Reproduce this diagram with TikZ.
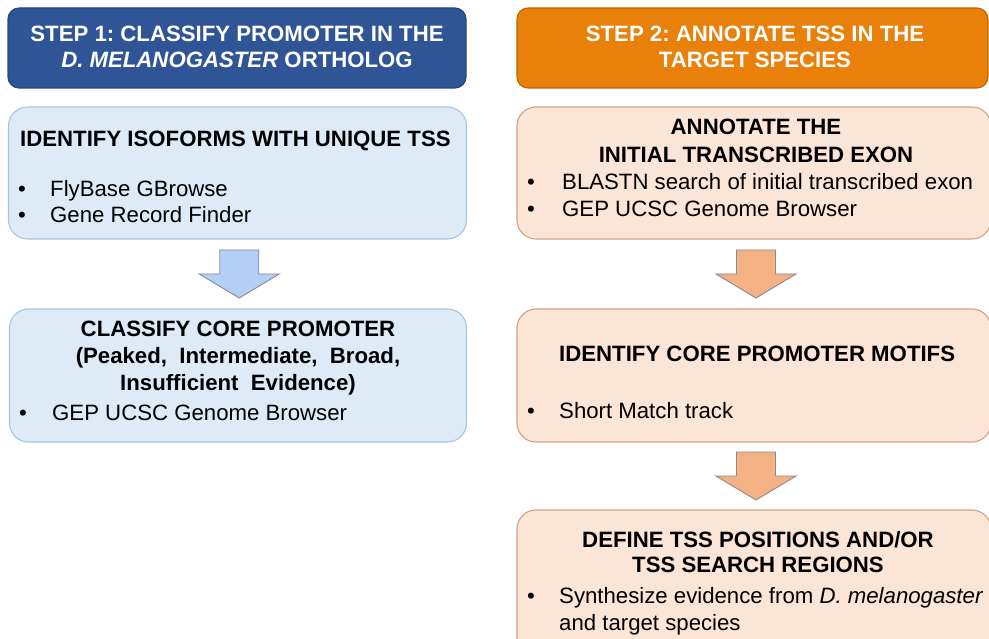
\documentclass[tikz,border=0pt]{standalone}
\usepackage{fontspec}
\setmainfont{Liberation Sans}
\usetikzlibrary{calc}
\frenchspacing
\definecolor{hdrblue}{HTML}{2F5597}
\definecolor{hdrblueline}{HTML}{27467E}
\definecolor{hdrorange}{HTML}{E9800A}
\definecolor{hdrorangeline}{HTML}{B86508}
\definecolor{boxblue}{HTML}{DEEBF7}
\definecolor{boxblueline}{HTML}{A6C6E6}
\definecolor{boxorange}{HTML}{FBE5D6}
\definecolor{boxorangeline}{HTML}{D2A283}
\definecolor{arrblue}{HTML}{B4CFF6}
\definecolor{arrorange}{HTML}{F4B183}
\definecolor{arrline}{HTML}{8A8A8A}
\tikzset{
  boxbase/.style={rectangle, inner sep=0pt, line width=1.1pt},
  hdrL/.style={boxbase, rounded corners=11pt, fill=hdrblue, draw=hdrblueline},
  hdrR/.style={boxbase, rounded corners=11pt, fill=hdrorange, draw=hdrorangeline},
  stepL/.style={boxbase, rounded corners=19pt, fill=boxblue, draw=boxblueline},
  stepR/.style={boxbase, rounded corners=19pt, fill=boxorange, draw=boxorangeline},
  txt/.style={inner sep=0pt, font=\fontsize{22.2}{26}\selectfont},
  htxt/.style={txt, text=white, font=\fontsize{22.2}{26}\selectfont\bfseries},
  btxt/.style={txt, font=\fontsize{22.2}{26}\selectfont\bfseries},
  fatarrowL/.style={fill=arrblue, draw=arrline, line width=0.9pt, line join=miter},
  fatarrowR/.style={fill=arrorange, draw=arrline, line width=0.9pt, line join=miter},
}
\newcommand{\fatdown}[2]{%
  \draw[#1] ($(#2)+(-19.5,-24)$) -- ($(#2)+(19.5,-24)$) -- ($(#2)+(19.5,0)$)
    -- ($(#2)+(40,0)$) -- ($(#2)+(0,24)$) -- ($(#2)+(-40,0)$)
    -- ($(#2)+(-19.5,0)$) -- cycle;}
\begin{document}
\begin{tikzpicture}[x=1pt,y=-1pt]
\useasboundingbox (0,0) rectangle (989,639);
\clip (0,0) rectangle (989,639);
\fill[white] (0,0) rectangle (989,639);

% headers
\node[hdrL, minimum width=458pt, minimum height=80pt] (h1) at (237,48) {};
\node[hdrR, minimum width=471pt, minimum height=80pt] (h2) at (752.5,48) {};
\node[htxt, anchor=base] (h1a) at (237,42) {STEP 1: CLASSIFY PROMOTER IN THE};
\node[htxt, anchor=base] (h1b) at (237,68) {\textit{D. MELANOGASTER} ORTHOLOG};
\node[htxt, anchor=base] (h2a) at (755,42) {STEP 2: ANNOTATE TSS IN THE};
\node[htxt, anchor=base] (h2b) at (755,68) {TARGET SPECIES};

% left column boxes
\node[stepL, minimum width=458pt, minimum height=132pt] (l1) at (237.5,173) {};
\node[stepL, minimum width=457pt, minimum height=133pt] (l2) at (238,375.5) {};
% right column boxes
\node[stepR, minimum width=474pt, minimum height=132pt] (r1) at (754,173) {};
\node[stepR, minimum width=474pt, minimum height=133pt] (r2) at (754,375.5) {};
\node[stepR, minimum width=474pt, minimum height=150pt] (r3) at (754,585) {};

% left box 1 text
\node[btxt, anchor=base west] (l1t) at (20,147) {IDENTIFY ISOFORMS WITH UNIQUE TSS};
\node[txt, anchor=base] (l1b1) at (22,197) {•};
\node[txt, anchor=base west] (l1i1) at (50,197) {FlyBase GBrowse};
\node[txt, anchor=base] (l1b2) at (22,223) {•};
\node[txt, anchor=base west] (l1i2) at (50,223) {Gene Record Finder};

% left box 2 text
\node[btxt, anchor=base] (l2t1) at (238,337) {CLASSIFY CORE PROMOTER};
\node[btxt, anchor=base] (l2t2) at (238,363) {(Peaked,\ \ Intermediate,\ \ Broad,};
\node[btxt, anchor=base] (l2t3) at (238,390) {Insufficient\ \ Evidence)};
\node[txt, anchor=base] (l2b1) at (23,420) {•};
\node[txt, anchor=base west] (l2i1) at (52,420) {GEP UCSC Genome Browser};

% right box 1 text
\node[btxt, anchor=base] (r1t1) at (756,135) {ANNOTATE THE};
\node[btxt, anchor=base] (r1t2) at (756,163) {INITIAL TRANSCRIBED EXON};
\node[txt, anchor=base] (r1b1) at (531,190) {•};
\node[txt, anchor=base west] (r1i1) at (562,190) {BLASTN search of initial transcribed exon};
\node[txt, anchor=base] (r1b2) at (531,217) {•};
\node[txt, anchor=base west] (r1i2) at (562,217) {GEP UCSC Genome Browser};

% right box 2 text
\node[btxt, anchor=base west] (r2t) at (559,362) {IDENTIFY CORE PROMOTER MOTIFS};
\node[txt, anchor=base] (r2b1) at (531,418) {•};
\node[txt, anchor=base west] (r2i1) at (559,418) {Short Match track};

% right box 3 text
\node[btxt, anchor=base] (r3t1) at (758,547) {DEFINE TSS POSITIONS AND/OR};
\node[btxt, anchor=base] (r3t2) at (758,572) {TSS SEARCH REGIONS};
\node[txt, anchor=base] (r3b1) at (531,603) {•};
\node[txt, anchor=base west] (r3i1) at (559,603) {Synthesize evidence from \textit{D. melanogaster}};
\node[txt, anchor=base west] (r3i2) at (559,630) {and target species};

% block arrows between boxes
\coordinate (ma) at ($(l1.south)!0.5!(l2.north)+(1.5,0)$);
\coordinate (mb) at ($(r1.south)!0.5!(r2.north)+(2,0)$);
\coordinate (mc) at ($(r2.south)!0.5!(r3.north)+(2,0)$);
\fatdown{fatarrowL}{ma}
\fatdown{fatarrowR}{mb}
\fatdown{fatarrowR}{mc}
\end{tikzpicture}
\end{document}
